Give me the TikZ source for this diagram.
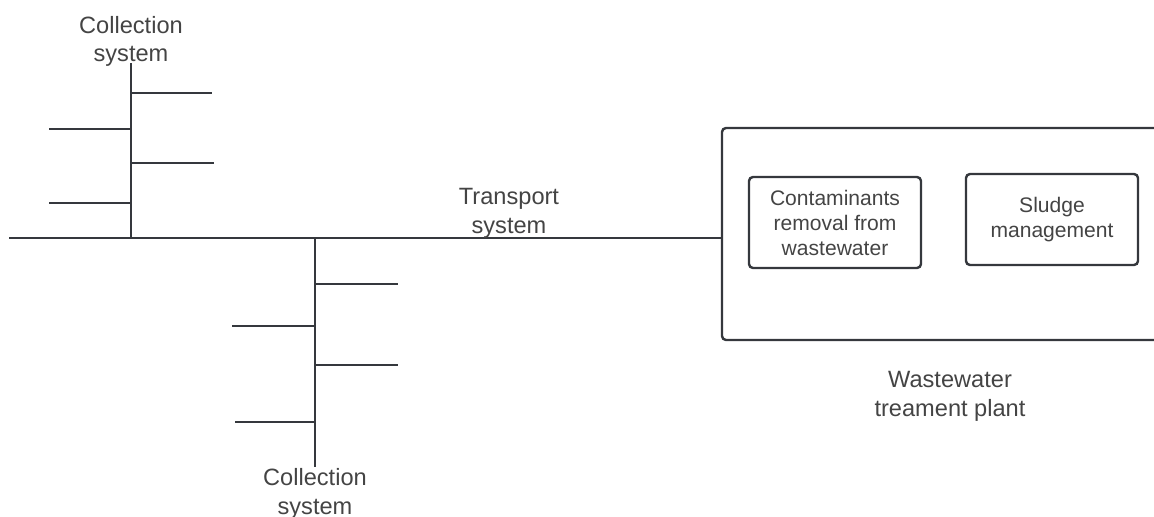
\documentclass[tikz,border=0pt]{standalone}
\usepackage{fontspec}
\setmainfont{Liberation Sans}
\definecolor{pipeclr}{HTML}{35383D}
\definecolor{ink}{HTML}{444444}
\begin{document}
\begin{tikzpicture}[x=0.75pt,y=-0.75pt,
  pipe/.style={draw=pipeclr, line width=1.95pt},
  caption/.style={text=ink, font=\fontsize{17.7}{21.5}\selectfont, align=center, inner sep=0pt},
  stage/.style={draw=pipeclr, line width=1.8pt, rounded corners=3pt, text=ink,
    font=\fontsize{15.8}{18.75}\selectfont, align=center, inner sep=0pt,
    minimum width=129pt, minimum height=68.25pt},
  plantbox/.style={draw=pipeclr, line width=1.8pt, rounded corners=3pt,
    minimum width=343.5pt, minimum height=159pt, inner sep=0pt}]
\useasboundingbox (0,0) rectangle (1154,517);
\clip (0,0) rectangle (1154,517);

% treatment plant and its two stages
\node[plantbox] (plant) at (951,234) {};
\node[stage] (removal) at (835,222.5) {Contaminants\\removal from\\wastewater};
\node[stage] (sludge) at (1052,219.5) {Sludge\\management};
\node[caption] (plantlbl) at (950,396.4) {Wastewater\\treament plant};

% transport trunk
\coordinate (trunkL) at (9,238);
\draw[pipe] (trunkL) -- (trunkL -| plant.west);
\node[caption] (trunklbl) at (509,213.4) {Transport\\system};

% upper collection network
\coordinate (upA) at (131,238);
\coordinate (upB) at (131,63);
\draw[pipe] (upA) -- (upB);
\draw[pipe] (131,93) -- (212,93);
\draw[pipe] (131,163) -- (214,163);
\draw[pipe] (49,129) -- (131,129);
\draw[pipe] (49,203) -- (131,203);
\node[caption] (uplbl) at (131,41.5) {Collection\\system};

% lower collection network
\coordinate (loA) at (315,238);
\coordinate (loB) at (315,467);
\draw[pipe] (loA) -- (loB);
\draw[pipe] (315,284) -- (398,284);
\draw[pipe] (315,365) -- (398,365);
\draw[pipe] (232,326) -- (315,326);
\draw[pipe] (235,422) -- (315,422);
\node[caption] (lolbl) at (315,493.8) {Collection\\system};
\end{tikzpicture}
\end{document}
